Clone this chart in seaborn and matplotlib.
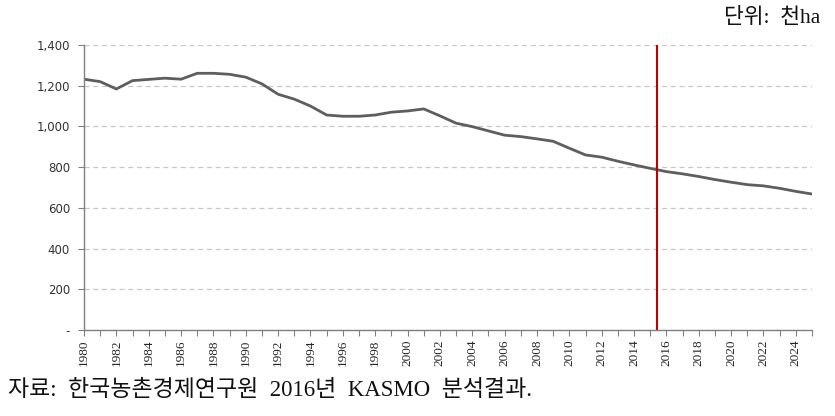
import matplotlib
matplotlib.use("Agg")
import matplotlib.pyplot as plt
import seaborn as sns
import pandas as pd
import numpy as np
from matplotlib.ticker import FuncFormatter, MultipleLocator

years = list(range(1980, 2026))
area = [1232, 1220, 1184, 1225, 1231, 1237, 1232, 1261, 1261, 1256,
        1242, 1209, 1158, 1134, 1100, 1056, 1050, 1050, 1056, 1070,
        1076, 1086, 1052, 1016, 999, 978, 957, 950, 939, 927,
        893, 860, 849, 829, 811, 794, 778, 767, 754, 739,
        726, 714, 708, 696, 681, 668]
label_years = list(range(1980, 2025, 2))
divider_year = 2015.4
unit_text = "단위:  천ha"
source_text = "자료:  한국농촌경제연구원  2016년  KASMO  분석결과."

df = pd.DataFrame({"year": years, "area": area})

sns.set_theme(style="white")
plt.rcParams['font.family'] = ['DejaVu Sans', 'Noto Sans CJK KR']

fig = plt.figure(figsize=(8.35, 4.16), dpi=100)
ax = fig.add_axes([84/835, 1-330/416, (812-84)/835, (330-45)/416])

sns.lineplot(data=df, x="year", y="area", ax=ax, color="#5e5e5e", linewidth=2.0)
ax.axvline(divider_year, color="#c00000", linewidth=1.5)

ax.set_xlim(1980, 2025)
ax.set_ylim(0, 1400)
ax.yaxis.set_major_locator(MultipleLocator(200))
ax.yaxis.set_major_formatter(FuncFormatter(lambda v, p: "-" if v == 0 else f"{int(v):,}"))
ax.grid(axis="y", color="#c8c8c8", linestyle=(0, (4, 3)), linewidth=0.9)
ax.set_axisbelow(True)

ax.set_xticks(years, minor=True)
ax.set_xticks(label_years)
ax.set_xticklabels([str(y) for y in label_years], rotation=90,
                   family=['Liberation Serif'], fontsize=9.5)
ax.tick_params(axis="x", which="both", direction="out", length=4, width=0.8,
               color="#808080", bottom=True, pad=3)
ax.tick_params(axis="y", direction="out", length=4, width=0.8, color="#808080",
               left=True, labelsize=8.5, labelcolor="#333333", pad=6)
ax.set_xlabel("")
ax.set_ylabel("")
for s in ["top", "right"]:
    ax.spines[s].set_visible(False)
for s in ["left", "bottom"]:
    ax.spines[s].set_color("#808080")
    ax.spines[s].set_linewidth(1.0)

fig.text(820/835, 1-18/416, unit_text, ha="right", va="center",
         family=['Liberation Serif', 'Noto Sans CJK KR'], fontsize=15.5, color="#111111")
fig.text(8/835, 1-390/416, source_text, ha="left", va="center",
         family=['Liberation Serif', 'Noto Sans CJK KR'], fontsize=16.5, color="#111111")

fig.savefig("out.png", dpi=100)
